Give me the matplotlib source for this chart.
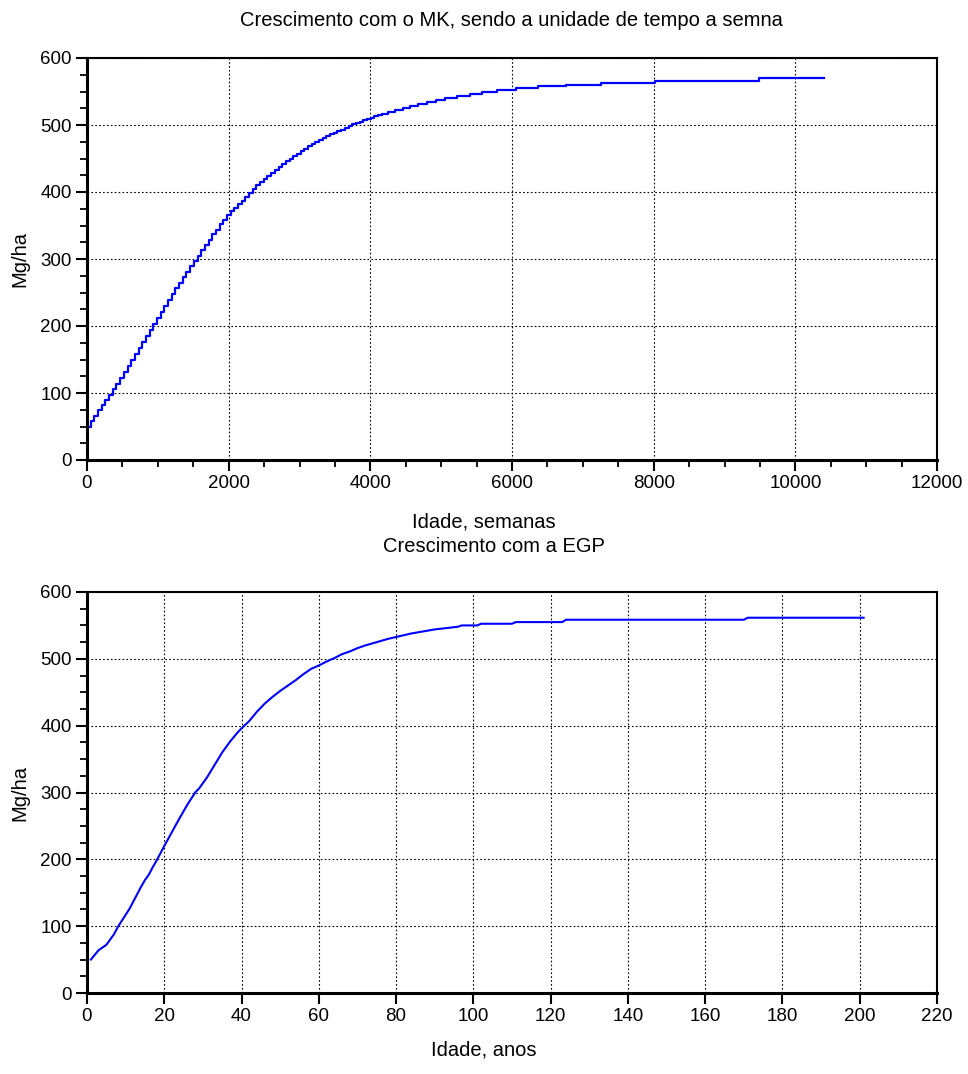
import numpy as np
import matplotlib
matplotlib.use('Agg')
import matplotlib.pyplot as plt
from matplotlib.ticker import MultipleLocator

plt.rcParams['font.family'] = ['Liberation Sans', 'DejaVu Sans']

# MK model, weekly time unit: value held constant until the next step
mk_weeks = list(range(0, 4161, 52)) + [4250, 4350, 4460, 4560, 4670, 4800, 4930, 5060, 5220,
                                       5400, 5580, 5790, 6050, 6365, 6760, 7250, 8025, 9490, 10400]
mk_values = [50, 58, 66, 74, 82, 89, 97, 106, 114, 123,
             132, 140, 149, 158, 167, 176, 185, 194, 203, 212,
             221, 230, 239, 248, 256, 264, 273, 281, 289, 297,
             305, 313, 321, 329, 337, 344, 352, 358, 365, 371,
             376, 382, 387, 393, 398, 404, 410, 415, 420, 424,
             429, 433, 438, 442, 446, 450, 454, 457, 461, 464,
             468, 471, 474, 477, 480, 483, 486, 488, 491, 493,
             496, 498, 501, 503, 505, 507, 509, 511, 513, 515,
             516,
             520, 523, 526, 529, 532, 535, 538, 541, 544,
             547, 550, 552, 555, 558, 560, 563, 566, 570, 570]

# EGP model, yearly time unit
egp_years = [1, 2, 3, 4, 5, 6, 7, 8, 9, 10, 11, 12, 13, 14, 15, 16, 17, 18, 19, 20,
             22, 24, 26, 28, 29, 31, 33, 35, 37, 39, 40, 42, 44, 46, 48, 50, 52, 54, 56, 58,
             60, 62, 64, 66, 68, 70, 72, 75, 78, 81, 84, 87, 90, 93, 96, 97, 101, 102,
             110, 111, 123, 124, 170, 171, 201]
egp_values = [50, 57, 64, 68, 72, 80, 88, 99, 108, 117, 126, 137, 148, 159, 169, 177, 188, 198, 209, 220,
              241, 262, 282, 300, 306, 322, 341, 360, 376, 390, 396, 407, 421, 433, 443, 452, 460, 468, 477, 485,
              490, 496, 501, 507, 511, 516, 520, 525, 530, 534, 538, 541, 544, 546, 548, 550, 550, 552.5,
              552.5, 555, 555, 558.5, 558.5, 561.5, 561.5]

W, H = 968, 1074
fig = plt.figure(figsize=(W / 100, H / 100), dpi=100)

ax1 = fig.add_axes([87 / W, 1 - 460 / H, 850 / W, 402 / H])
ax2 = fig.add_axes([87 / W, 1 - 993 / H, 850 / W, 401 / H])

ax1.step(mk_weeks, mk_values, where='post', color='#0000ff', lw=1.6)
ax2.plot(egp_years, egp_values, color='#0000ff', lw=1.5)

ax1.set_xlim(0, 12000)
ax1.xaxis.set_major_locator(MultipleLocator(2000))
ax1.xaxis.set_minor_locator(MultipleLocator(500))
ax2.set_xlim(0, 220)
ax2.xaxis.set_major_locator(MultipleLocator(20))

for ax in (ax1, ax2):
    ax.set_ylim(0, 600)
    ax.yaxis.set_major_locator(MultipleLocator(100))
    ax.yaxis.set_minor_locator(MultipleLocator(25))
    ax.grid(True, which='major', color='black', linestyle=(0, (1.5, 2)), linewidth=0.8)
    ax.tick_params(which='major', direction='out', length=8, width=1.5, labelsize=13.5, pad=3,
                   colors='black')
    ax.tick_params(which='minor', direction='out', length=5, width=1.3)
    ax.tick_params(top=False, right=False)
    for side in ['left', 'bottom']:
        ax.spines[side].set_linewidth(2.2)
    for side in ['top', 'right']:
        ax.spines[side].set_linewidth(1.5)
    ax.set_axisbelow(True)

fig.text(511 / W, 1 - 20 / H, 'Crescimento com o MK, sendo a unidade de tempo a semna',
         ha='center', va='center', fontsize=14.5)
fig.text(484 / W, 1 - 522 / H, 'Idade, semanas', ha='center', va='center', fontsize=14.5)
fig.text(494 / W, 1 - 547 / H, 'Crescimento com a EGP', ha='center', va='center', fontsize=14.5)
fig.text(484 / W, 1 - 1050 / H, 'Idade, anos', ha='center', va='center', fontsize=14.5)
fig.text(20 / W, 1 - 259 / H, 'Mg/ha', ha='center', va='center', rotation=90, fontsize=14.5)
fig.text(20 / W, 1 - 793 / H, 'Mg/ha', ha='center', va='center', rotation=90, fontsize=14.5)

fig.savefig('out.png', dpi=100)
